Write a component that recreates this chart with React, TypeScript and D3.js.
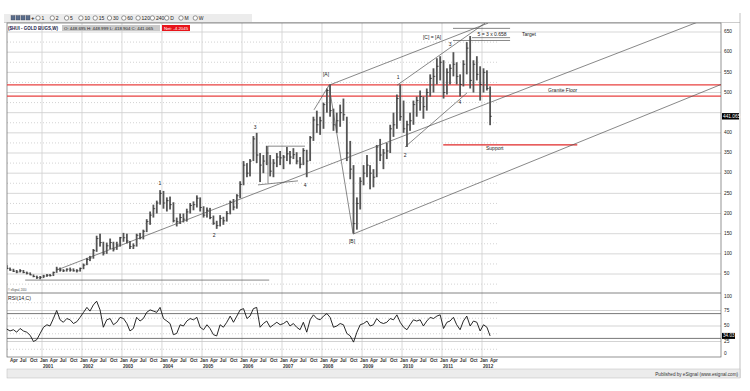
import * as d3 from "d3";

const W = 750;
const H = 391;
const FONT = "'Liberation Sans', Arial, sans-serif";

// monthly bars, Feb 2000 .. Mar 2012
const START_YEAR = 2000;
const START_MONTH = 1; // Feb

const HIGH = [
  72, 66, 63, 60, 62, 60, 56, 54, 49, 46, 45,
  48, 50, 50, 56, 68, 66, 62, 64, 66, 64, 62, 66,
  76, 90, 95, 112, 145, 150, 130, 128, 138, 130, 130, 142,
  152, 150, 132, 126, 150, 152, 160, 186, 205, 222, 232, 258,
  256, 240, 242, 228, 190, 200, 200, 212, 226, 230, 245, 240,
  218, 215, 214, 195, 182, 196, 192, 206, 232, 236, 248, 280,
  330, 325, 335, 392, 400, 350, 345, 368, 345, 335, 350, 355,
  345, 365, 355, 362, 352, 340, 362, 358, 392, 440, 455, 440,
  475, 510, 520, 460, 450, 470, 485, 440, 380, 320, 240, 290,
  320, 345, 320, 310, 370, 385, 360, 375, 420, 450, 495, 520,
  480, 430, 450, 480, 490, 505, 490, 510, 545, 560, 585, 590,
  580, 560, 570, 600, 575, 545, 580, 625, 640, 580, 590, 565,
  560, 555, 515,
];
const LOW = [
  62, 58, 55, 52, 54, 52, 49, 47, 42, 38, 37,
  40, 43, 44, 45, 53, 56, 55, 56, 56, 56, 54, 56,
  62, 72, 82, 88, 105, 118, 96, 100, 112, 106, 110, 118,
  130, 126, 112, 112, 118, 136, 136, 154, 172, 190, 200, 222,
  212, 205, 210, 178, 168, 174, 178, 180, 200, 208, 215, 205,
  190, 190, 186, 172, 162, 168, 172, 180, 198, 208, 212, 238,
  270, 290, 292, 330, 325, 278, 300, 320, 292, 290, 315, 320,
  310, 330, 322, 335, 322, 312, 320, 290, 330, 380, 400, 395,
  410, 450, 440, 405, 400, 415, 430, 330, 285, 150, 160, 210,
  270, 290, 260, 265, 290, 330, 310, 335, 350, 390, 410, 430,
  400, 365, 405, 420, 440, 455, 435, 455, 490, 500, 520, 530,
  485, 495, 520, 540, 520, 490, 515, 545, 510, 500, 530, 480,
  500, 505, 419,
];
const CLOSE = [
  64, 60, 57, 55, 58, 54, 52, 48, 44, 41, 42,
  45, 47, 46, 54, 62, 60, 58, 62, 60, 58, 58, 64,
  72, 86, 90, 108, 138, 128, 102, 120, 128, 112, 122, 140,
  140, 132, 118, 120, 146, 140, 156, 180, 196, 212, 226, 250,
  226, 232, 222, 182, 180, 190, 186, 204, 220, 222, 238, 215,
  196, 208, 190, 176, 170, 188, 182, 200, 228, 216, 244, 272,
  320, 300, 330, 385, 345, 320, 330, 350, 305, 325, 340, 338,
  340, 348, 340, 346, 330, 322, 356, 330, 388, 432, 420, 430,
  470, 505, 455, 420, 430, 450, 445, 350, 310, 175, 225, 280,
  300, 320, 300, 290, 365, 345, 350, 355, 410, 420, 485, 440,
  410, 420, 430, 470, 480, 490, 465, 500, 535, 540, 565, 575,
  500, 550, 560, 570, 540, 520, 570, 610, 530, 570, 545, 520,
  550, 510, 441,
];
const RSI = [
  45, 42, 44, 40, 46, 42, 40, 35, 25, 28, 38,
  48, 52, 50, 62, 75, 60, 56, 62, 60, 54, 57, 64,
  72, 80, 74, 84, 90, 76, 48, 60, 62, 52, 56, 64,
  62, 54, 42, 46, 64, 58, 62, 72, 76, 74, 72, 80,
  62, 58, 54, 36, 38, 52, 50, 58, 62, 60, 64, 48,
  44, 52, 46, 36, 34, 52, 48, 56, 66, 56, 66, 76,
  78, 62, 66, 78, 80, 48, 54, 58, 48, 52, 56, 52,
  54, 58, 50, 54, 48, 44, 56, 40, 60, 68, 62, 60,
  66, 70, 64, 48, 50, 54, 52, 38, 34, 24, 40, 52,
  54, 58, 50, 52, 62, 56, 54, 56, 62, 60, 68, 56,
  48, 44, 52, 60, 58, 60, 50, 58, 64, 62, 66, 68,
  46, 56, 58, 64, 52, 44, 58, 66, 50, 58, 56, 42,
  52, 48, 34,
];

const PRICE_TICKS = [50, 100, 150, 200, 250, 300, 350, 400, 450, 500, 550, 600, 650];
const RSI_TICKS = [0, 25, 50, 75, 100];
const YEARS = [2001, 2002, 2003, 2004, 2005, 2006, 2007, 2008, 2009, 2010, 2011, 2012];
const MONTH_NAMES = ["Jan", "Apr", "Jul", "Oct"];

const LAST_CLOSE = "441.065";
const LAST_RSI = "34.03";

// annotations in (decimal year, price)
const FLOOR_LEVELS = [519, 491];
const SUPPORT = { t0: 2011.03, t1: 2014.38, p: 370 };
const BASE_LINE = { t0: 2000.58, t1: 2006.68, p: 35 };
const TREND_LINES: [number, number, number, number][] = [
  [2001.375, 60, 2018, 698],
  [2008.775, 149, 2018, 521],
  [2008.175, 518, 2012.15, 672],
  [2009.875, 518, 2012.075, 672],
  [2010.075, 365, 2011.625, 499],
  [2008.175, 518, 2008.775, 151],
  [2007.8, 457, 2008.175, 518],
  [2006.65, 367, 2007.575, 367],
  [2006.65, 367, 2006.65, 275],
  [2006.4, 271, 2007.4, 281],
  [2011.275, 659, 2012.7, 659],
  [2011.75, 636, 2012.7, 636],
  [2011.275, 629, 2012.7, 629],
];
const WAVE_LABELS: [string, number, number][] = [
  ["1", 2003.95, 273],
  ["2", 2005.3, 144],
  ["3", 2006.33, 412],
  ["4", 2007.58, 268],
  ["[A]", 2008.1, 543],
  ["[B]", 2008.75, 129],
  ["1", 2009.9, 536],
  ["2", 2010.08, 343],
  ["3", 2011.2, 618],
  ["4", 2011.45, 474],
  ["[C] = [A]", 2010.75, 636],
  ["5 = 3 x 0.658", 2012.25, 643],
];
const TEXT_NOTES: [string, number, number][] = [
  ["Target", 2013.0, 643],
  ["Granite Floor", 2013.65, 504],
  ["Support", 2012.1, 360],
];

const TOOL_ITEMS = ["1", "2", "5", "10", "15", "30", "60", "120", "240", "D", "M", "W"];

const L = 7;
const R = 721;
const TOP = 23;
const MID = 293;
const BOT = 357;

const dec = (t: number) => {
  const y = Math.floor(t);
  const start = new Date(y, 0, 1).getTime();
  const end = new Date(y + 1, 0, 1).getTime();
  return new Date(start + (end - start) * (t - y));
};

export default function App() {
  const x = d3.scaleTime().domain([new Date(2001, 0, 1), new Date(2012, 0, 1)]).range([42, 482]);
  const y = d3.scaleLinear().domain([0, 650]).range([294.2, 32]);
  const yr = d3.scaleLinear().domain([0, 100]).range([357, 295]);
  const X = (t: number) => x(dec(t));

  const dates = HIGH.map((_, i) => new Date(START_YEAR, START_MONTH + i, 15));
  const dataEnd = 497;

  const rsiLine = d3
    .line<number>()
    .x((_, i) => x(dates[i]))
    .y((d) => yr(d));

  const quarterTicks = d3.timeMonth
    .every(3)!
    .range(new Date(2000, 3, 1), new Date(2012, 4, 1));

  const txt = { fontFamily: FONT, fontSize: 5.2, fill: "#222" } as const;

  return (
    <svg width={W} height={H} style={{ position: "absolute", left: 0, top: 0, background: "#fff" }}>
      <defs>
        <clipPath id="main">
          <rect x={L} y={TOP} width={R - L} height={MID - TOP} />
        </clipPath>
      </defs>

      {/* toolbar */}
      <rect x={4} y={14} width={248} height={8} fill="#ececec" />
      <line x1={4} x2={740} y1={22.5} y2={22.5} stroke="#aaa" strokeWidth={0.6} />
      {[11, 16, 21, 26].map((ix) => (
        <rect key={ix} x={ix} y={15.5} width={4} height={4.5} fill="#5a6e8c" stroke="#334" strokeWidth={0.3} />
      ))}
      <text x={31} y={20.3} {...txt} fontSize={6} fontWeight={700}>+</text>
      {TOOL_ITEMS.map((s, i) => {
        const ix = 38 + i * 14.3;
        return (
          <g key={s}>
            <circle cx={ix} cy={18} r={2.2} fill="#fff" stroke="#333" strokeWidth={0.5} />
            <text x={ix + 3.5} y={19.8} {...txt} fontSize={5}>{s}</text>
          </g>
        );
      })}

      {/* outer frame */}
      <line x1={740} x2={740} y1={13} y2={378} stroke="#999" strokeWidth={0.6} />
      <rect x={L} y={369} width={733} height={9} fill="#ececec" stroke="#bbb" strokeWidth={0.5} />
      <text x={738} y={375.5} {...txt} fontSize={4.6} textAnchor="end" fill="#333">
        Published by eSignal (www.esignal.com)
      </text>

      {/* grids - price */}
      {PRICE_TICKS.map((p) => (
        <line key={p} x1={L} x2={R} y1={y(p)} y2={y(p)} stroke="#cdcdcd" strokeWidth={0.8} />
      ))}
      {PRICE_TICKS.map((p) => (
        <line key={"d" + p} x1={L} x2={dataEnd} y1={y(p - 25)} y2={y(p - 25)} stroke="#b5b5b5" strokeWidth={0.6} strokeDasharray="1 2" />
      ))}
      {YEARS.map((yy) => (
        <line key={yy} x1={x(new Date(yy, 0, 1))} x2={x(new Date(yy, 0, 1))} y1={TOP} y2={BOT} stroke="#cfcfcf" strokeWidth={0.8} />
      ))}

      {/* grids - rsi */}
      {[25, 50, 75].map((r) => (
        <line key={r} x1={L} x2={R} y1={yr(r)} y2={yr(r)} stroke="#c8c8c8" strokeWidth={0.8} />
      ))}
      {[12.5, 37.5, 62.5, 87.5].map((r) => (
        <line key={r} x1={L} x2={dataEnd} y1={yr(r)} y2={yr(r)} stroke="#b5b5b5" strokeWidth={0.6} strokeDasharray="1 2" />
      ))}
      {[30, 70].map((r) => (
        <line key={r} x1={L} x2={R} y1={yr(r)} y2={yr(r)} stroke="#555" strokeWidth={0.8} />
      ))}

      {/* frames */}
      <rect x={L} y={TOP} width={R - L} height={BOT - TOP} fill="none" stroke="#666" strokeWidth={0.7} />
      <line x1={L} x2={R} y1={MID} y2={MID} stroke="#666" strokeWidth={0.8} />

      {/* title */}
      <text x={8} y={29.5} {...txt} fontSize={4.5} fontWeight={700} fill="#1a1a4a">
        ($HUI - GOLD BUGS,W)
      </text>
      <rect x={62} y={25} width={98} height={6} fill="#c9c9c9" />
      <text x={64} y={29.6} {...txt} fontSize={4.4}>
        O: 448.695   H: 448.999   L: 418.904   C: 441.065
      </text>
      <rect x={162} y={25} width={28} height={6} fill="#e8141a" />
      <text x={164} y={29.6} {...txt} fontSize={4.4} fill="#fff">Net: -4.2045</text>

      {/* red levels */}
      {FLOOR_LEVELS.map((p) => (
        <line key={p} x1={L} x2={R} y1={y(p)} y2={y(p)} stroke="#e8413f" strokeWidth={1.3} />
      ))}
      <line x1={X(SUPPORT.t0)} x2={X(SUPPORT.t1)} y1={y(SUPPORT.p)} y2={y(SUPPORT.p)} stroke="#e02828" strokeWidth={1.2} />

      {/* price bars */}
      <g clipPath="url(#main)">
        {dates.map((d, i) => (
          <g key={i}>
            <rect x={x(d) - 0.9} y={y(HIGH[i])} width={1.8} height={Math.max(1, y(LOW[i]) - y(HIGH[i]))} fill="#555" />
            <line x1={x(d)} x2={x(d) + 1.8} y1={y(CLOSE[i])} y2={y(CLOSE[i])} stroke="#222" strokeWidth={0.7} />
          </g>
        ))}

        <line x1={X(BASE_LINE.t0)} x2={X(BASE_LINE.t1)} y1={y(BASE_LINE.p)} y2={y(BASE_LINE.p)} stroke="#555" strokeWidth={0.7} />
        {TREND_LINES.map(([t0, p0, t1, p1], i) => (
          <line key={i} x1={X(t0)} y1={y(p0)} x2={X(t1)} y2={y(p1)} stroke="#555" strokeWidth={0.7} />
        ))}
      </g>

      {WAVE_LABELS.map(([s, t, p], i) => (
        <text key={i} x={X(t)} y={y(p)} {...txt} fontSize={5} textAnchor="middle" dominantBaseline="middle">
          {s}
        </text>
      ))}
      {TEXT_NOTES.map(([s, t, p]) => (
        <text key={s} x={X(t)} y={y(p)} {...txt} fontSize={5} dominantBaseline="middle">
          {s}
        </text>
      ))}

      {/* rsi */}
      <text x={8} y={300} {...txt} fontSize={5.2}>RSI(14,C)</text>
      <path d={rsiLine(RSI) ?? ""} fill="none" stroke="#111" strokeWidth={0.9} />
      <text x={8} y={291} {...txt} fontSize={2.6} fill="#444">© eSignal, 2010</text>

      {/* right axis */}
      {PRICE_TICKS.filter((p) => p !== 450).map((p) => (
        <text key={p} x={724} y={y(p)} {...txt} fontSize={4.8} dominantBaseline="middle">{p}</text>
      ))}
      <rect x={722} y={y(441) - 3.2} width={17} height={6.4} fill="#000" />
      <text x={723} y={y(441)} {...txt} fontSize={4.8} fill="#fff" dominantBaseline="middle">{LAST_CLOSE}</text>
      {RSI_TICKS.map((r) => (
        <text key={r} x={724} y={Math.min(354, Math.max(297, yr(r)))} {...txt} fontSize={4.8} dominantBaseline="middle">{r}</text>
      ))}
      <rect x={722} y={yr(34) - 3} width={13} height={6} fill="#000" />
      <text x={723} y={yr(34)} {...txt} fontSize={4.6} fill="#fff" dominantBaseline="middle">{LAST_RSI}</text>

      {/* x axis */}
      {quarterTicks.map((d) => (
        <text key={d.getTime()} x={x(d) - 2} y={361.5} {...txt} fontSize={4.6} fontWeight={700} fill="#333">
          {MONTH_NAMES[d.getMonth() / 3]}
        </text>
      ))}
      {YEARS.map((yy) => (
        <text key={yy} x={x(new Date(yy, 0, 1)) + 1} y={367.5} {...txt} fontSize={4.6} fontWeight={700} fill="#333">
          {yy}
        </text>
      ))}
    </svg>
  );
}
